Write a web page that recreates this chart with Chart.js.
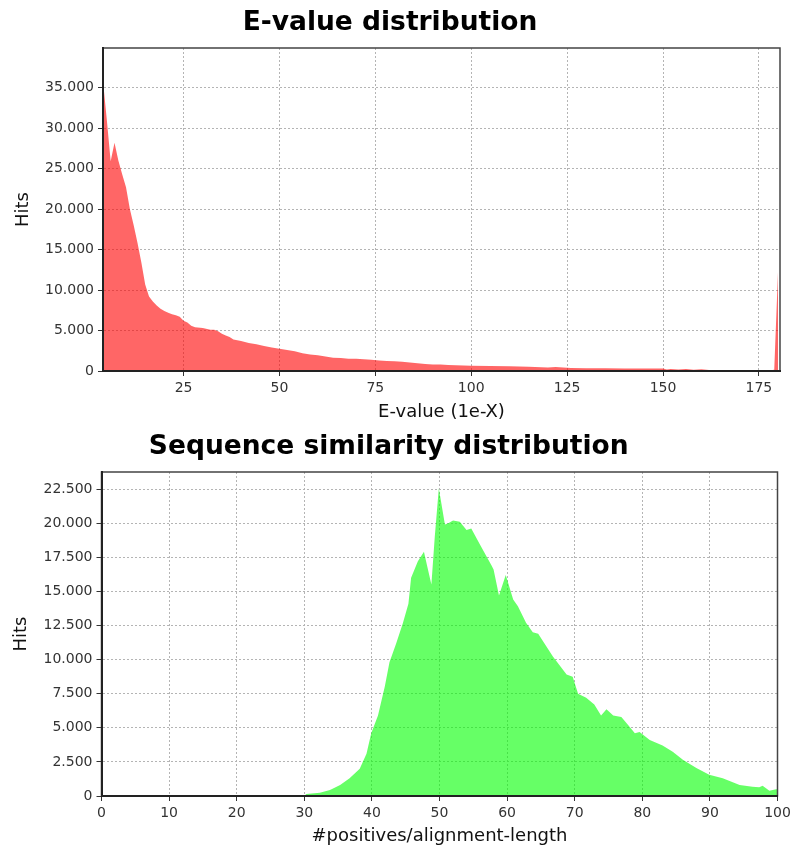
<!DOCTYPE html>
<html>
<head>
<meta charset="utf-8">
<title>E-value and sequence similarity distributions</title>
<script src="https://cdn.jsdelivr.net/npm/chart.js@4.4.1/dist/chart.umd.min.js"></script>
<style>
  html, body { margin: 0; padding: 0; background: #fff; }
  #wrap { position: relative; width: 795px; height: 854px; overflow: hidden; }
  canvas { position: absolute; left: 0; }
  #evalueChart { top: 0; }
  #similarityChart { top: 424px; }
</style>
</head>
<body>
<div id="wrap">
  <canvas id="evalueChart" width="795" height="424"></canvas>
  <canvas id="similarityChart" width="795" height="430"></canvas>
</div>
<script>
// E-value distribution: exponent X of 1e-X against number of hits
const evalueX = [4, 5, 6, 7, 8, 9, 10, 11, 12, 13, 14, 15, 16, 17, 18, 19, 20, 21, 22, 23, 24, 25, 26, 27, 28, 30, 32, 33, 34, 35, 36, 37, 38, 40, 42, 44, 46, 48, 50, 52, 54, 56, 58, 60, 62, 64, 66, 68, 70, 72, 74, 76, 78, 80, 82, 84, 86, 88, 90, 92, 94, 96, 98, 100, 105, 110, 115, 120, 122, 124, 126, 130, 135, 140, 145, 150, 151, 152, 154, 156, 158, 160, 162, 165, 170, 175, 178, 179, 180];
const evalueHits = [35800, 31000, 25900, 28200, 26000, 24300, 22700, 20000, 18000, 15800, 13400, 10700, 9200, 8600, 8100, 7700, 7400, 7200, 7000, 6900, 6700, 6200, 6000, 5600, 5400, 5300, 5100, 5100, 4900, 4600, 4400, 4200, 3900, 3700, 3450, 3300, 3100, 2900, 2750, 2600, 2450, 2200, 2050, 1950, 1800, 1650, 1600, 1500, 1500, 1450, 1400, 1300, 1250, 1200, 1150, 1050, 950, 850, 800, 800, 750, 700, 680, 650, 620, 580, 520, 440, 480, 420, 380, 340, 330, 320, 310, 300, 170, 240, 170, 240, 160, 220, 120, 110, 100, 100, 90, 150, 12500];
const evalueXTicks = [25, 50, 75, 100, 125, 150, 175];
const evalueYTicks = [0, 5000, 10000, 15000, 20000, 25000, 30000, 35000];

// Sequence similarity: #positives / alignment length (%) against number of hits
const similarityX = [30, 30.3, 32.3, 33.8, 35.3, 36.7, 38.2, 39.2, 39.9, 40.9, 41.9, 42.6, 43.6, 44.6, 45.4, 45.8, 46.8, 47.7, 48.2, 48.8, 49.3, 49.9, 50.8, 51.3, 52.0, 53.0, 54.0, 54.7, 55.9, 57.7, 58.0, 58.8, 59.8, 60.9, 61.6, 62.8, 63.8, 64.6, 66.8, 68.8, 69.7, 70.5, 71.7, 72.9, 73.9, 74.7, 75.7, 76.9, 77.9, 78.9, 79.6, 81.1, 83.0, 84.5, 86.0, 88.0, 89.9, 91.9, 94.4, 96.3, 97.3, 97.8, 98.8, 99.8, 100];
const similarityHits = [0, 150, 240, 440, 800, 1300, 2000, 3100, 4600, 5900, 8000, 9800, 11200, 12700, 14100, 16000, 17200, 17900, 16800, 15500, 19000, 22550, 19900, 20000, 20200, 20100, 19500, 19600, 18500, 16900, 16600, 14700, 16200, 14400, 13900, 12700, 12000, 11900, 10200, 8900, 8750, 7500, 7200, 6700, 5900, 6350, 5900, 5800, 5200, 4600, 4700, 4100, 3700, 3250, 2650, 2050, 1550, 1300, 800, 680, 640, 750, 390, 500, 500];
const similarityXTicks = [0, 10, 20, 30, 40, 50, 60, 70, 80, 90, 100];
const similarityYTicks = [0, 2500, 5000, 7500, 10000, 12500, 15000, 17500, 20000, 22500];

// thousands grouped with a dot, e.g. 35.000
function groupDigits(v) {
  return String(Math.round(v)).replace(/\B(?=(\d{3})+(?!\d))/g, '.');
}

// thin outline round the whole plot area
const plotFrame = {
  id: 'plotFrame',
  afterDatasetsDraw(chart, args, opts) {
    const { ctx, chartArea: a } = chart;
    ctx.save();
    ctx.strokeStyle = opts.color;
    ctx.lineWidth = opts.width;
    ctx.strokeRect(a.left, a.top, a.right - a.left, a.bottom - a.top);
    ctx.restore();
  }
};

const FONT = "'DejaVu Sans', 'Liberation Sans', sans-serif";
const INK = '#222';

function axisCommon(tickValues, fmt) {
  return {
    type: 'linear',
    afterBuildTicks: s => { s.ticks = tickValues.map(v => ({ value: v })); },
    ticks: {
      font: { family: FONT, size: 14 },
      color: '#333',
      padding: 4,
      maxRotation: 0,
      autoSkip: false,
      callback: fmt
    },
    grid: {
      color: '#b4b4b4',
      lineWidth: 1,
      tickLength: 5,
      tickColor: '#333',
      tickWidth: 1
    },
    border: { color: INK, width: 2, dash: [2, 2], z: 1 }
  };
}

function makeChart(canvas, o) {
  const xAxis = axisCommon(o.xTicks, v => String(v));
  Object.assign(xAxis, {
    min: o.xMin, max: o.xMax,
    afterFit: s => { s.height = o.xAxisHeight; },
    title: {
      display: true, text: o.xTitle, color: '#111',
      font: { family: FONT, size: 18 },
      padding: { top: 0, bottom: o.xTitlePad }
    }
  });
  const yAxis = axisCommon(o.yTicks, v => groupDigits(v));
  Object.assign(yAxis, {
    min: 0, max: o.yMax,
    afterFit: s => { s.width = o.yAxisWidth; },
    title: {
      display: true, text: 'Hits', color: '#111',
      font: { family: FONT, size: 18 },
      padding: { top: o.yTitlePad, bottom: 0 }
    }
  });

  return new Chart(canvas, {
    type: 'line',
    data: {
      datasets: [{
        data: o.x.map((x, i) => ({ x: x, y: o.y[i] })),
        fill: 'origin',
        backgroundColor: o.fill,
        borderColor: 'rgba(0,0,0,0)',
        borderWidth: 0,
        pointRadius: 0,
        tension: 0
      }]
    },
    options: {
      responsive: false,
      animation: false,
      devicePixelRatio: 1,
      layout: { padding: { left: 0, right: o.padRight, top: 0, bottom: 0 } },
      plugins: {
        legend: { display: false },
        tooltip: { enabled: false },
        title: {
          display: true,
          text: o.title,
          color: '#000',
          font: { family: FONT, size: 26.5, weight: 'bold' },
          padding: { top: 7.3, bottom: 8.9 }
        },
        plotFrame: { color: '#444', width: 1.5 }
      },
      scales: { x: xAxis, y: yAxis }
    },
    plugins: [plotFrame]
  });
}

makeChart(document.getElementById('evalueChart'), {
  title: 'E-value distribution',
  x: evalueX, y: evalueHits,
  xTicks: evalueXTicks, yTicks: evalueYTicks,
  xMin: 4, xMax: 180.5, yMax: 39900,
  xTitle: 'E-value (1e-X)',
  fill: 'rgba(255,0,0,0.6)',
  padRight: 15, yAxisWidth: 103, xAxisHeight: 53,
  xTitlePad: 1, yTitlePad: 13
});

makeChart(document.getElementById('similarityChart'), {
  title: 'Sequence similarity distribution',
  x: similarityX, y: similarityHits,
  xTicks: similarityXTicks, yTicks: similarityYTicks,
  xMin: 0, xMax: 100, yMax: 23750,
  xTitle: '#positives/alignment-length',
  fill: 'rgba(0,255,0,0.6)',
  padRight: 17.5, yAxisWidth: 101.5, xAxisHeight: 58,
  xTitlePad: 6.5, yTitlePad: 11
});
</script>
</body>
</html>
